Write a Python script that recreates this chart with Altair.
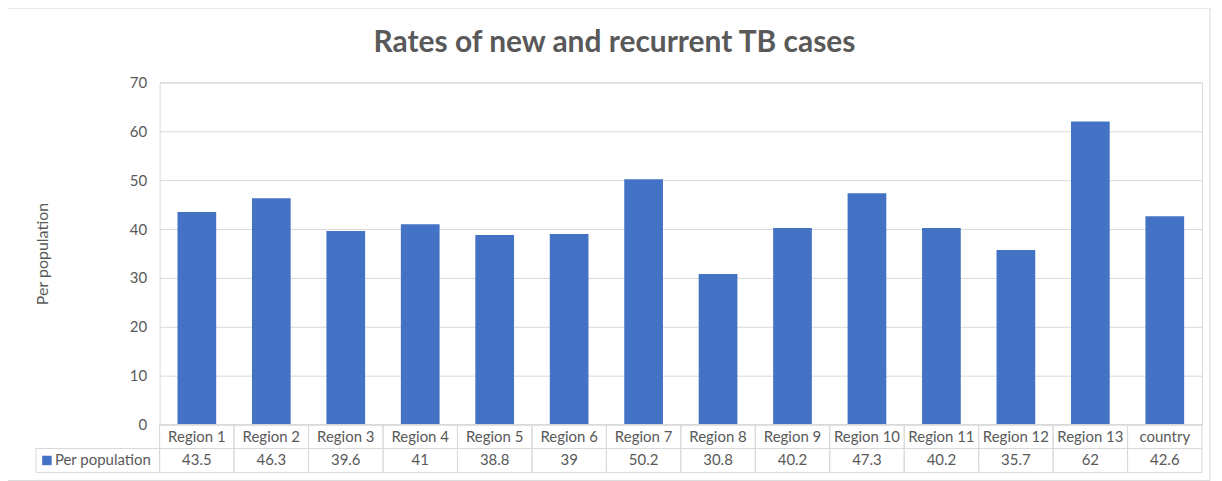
import altair as alt
import pandas as pd

categories = ["Region 1", "Region 2", "Region 3", "Region 4", "Region 5", "Region 6",
              "Region 7", "Region 8", "Region 9", "Region 10", "Region 11", "Region 12",
              "Region 13", "country"]
values = [43.5, 46.3, 39.6, 41, 38.8, 39, 50.2, 30.8, 40.2, 47.3, 40.2, 35.7, 62, 42.6]
y_ticks = [0, 10, 20, 30, 40, 50, 60, 70]
series_name = "Per population"
title_text = "Rates of new and recurrent TB cases"

df = pd.DataFrame({"cat": categories, "val": values,
                   "label": [f"{v:g}" for v in values]})

FONT = "Lato"
TXT = "#595959"
GRID = "#d9d9d9"
BLUE = "#4472C4"
W, H = 1045, 343
FS = 15

xenc = alt.X("cat:N", sort=categories, axis=None,
             scale=alt.Scale(paddingInner=0, paddingOuter=0))

base = alt.Chart(df)

bars = base.mark_bar(color=BLUE, width=alt.RelativeBandSize(0.52)).encode(
    x=xenc,
    y=alt.Y("val:Q", scale=alt.Scale(domain=[0, 70], nice=False),
            axis=alt.Axis(values=y_ticks, domain=False, ticks=False, grid=True,
                          gridColor=GRID, labelColor=TXT, labelFontSize=FS,
                          labelFont=FONT, labelPadding=13,
                          title=series_name, titleFont=FONT, titleFontSize=16,
                          titleFontWeight="normal", titleColor=TXT,
                          titleX=-117, titleY=H / 2, titleAngle=270,
                          titleAlign="center", titleBaseline="middle")),
)

row1 = base.mark_rect(filled=False, stroke=GRID, strokeWidth=1).encode(
    x=xenc, y=alt.value(H), y2=alt.value(H + 24))
row2 = base.mark_rect(filled=False, stroke=GRID, strokeWidth=1).encode(
    x=xenc, y=alt.value(H + 24), y2=alt.value(H + 48))

cat_text = base.mark_text(font=FONT, fontSize=FS, color=TXT, baseline="middle").encode(
    x=xenc, y=alt.value(H + 12), text="cat:N")
val_text = base.mark_text(font=FONT, fontSize=FS, color=TXT, baseline="middle").encode(
    x=xenc, y=alt.value(H + 36), text="label:N")

one = alt.Data(values=[{"name": series_name, "title": title_text}])
left_cell = alt.Chart(one).mark_rect(filled=False, stroke=GRID, strokeWidth=1).encode(
    x=alt.value(-124), x2=alt.value(0), y=alt.value(H + 24), y2=alt.value(H + 48))
swatch = alt.Chart(one).mark_square(color=BLUE, size=90, opacity=1).encode(
    x=alt.value(-113), y=alt.value(H + 36))
legend_text = alt.Chart(one).mark_text(font=FONT, fontSize=FS, color=TXT,
                                       align="left", baseline="middle").encode(
    x=alt.value(-105), y=alt.value(H + 36), text="name:N")
border = alt.Chart(one).mark_rect(filled=False, stroke=GRID, strokeWidth=1).encode(
    x=alt.value(-152.5), x2=alt.value(W + 8), y=alt.value(-74.5), y2=alt.value(H + 56))
title_mark = alt.Chart(one).mark_text(font=FONT, fontSize=30, fontWeight="bold", color=TXT,
                                      align="center", baseline="alphabetic").encode(
    x=alt.value(456), y=alt.value(-30), text="title:N")

chart = alt.layer(border, bars, row1, row2, cat_text, val_text, left_cell, swatch,
                  legend_text, title_mark).properties(
    width=W, height=H,
    autosize=alt.AutoSizeParams(type="none"),
    padding={"left": 152, "top": 74, "right": 12, "bottom": 56},
).configure_view(stroke=None).configure(background="white")

chart.save("out.html", embed_options={"renderer": "svg", "actions": False})
